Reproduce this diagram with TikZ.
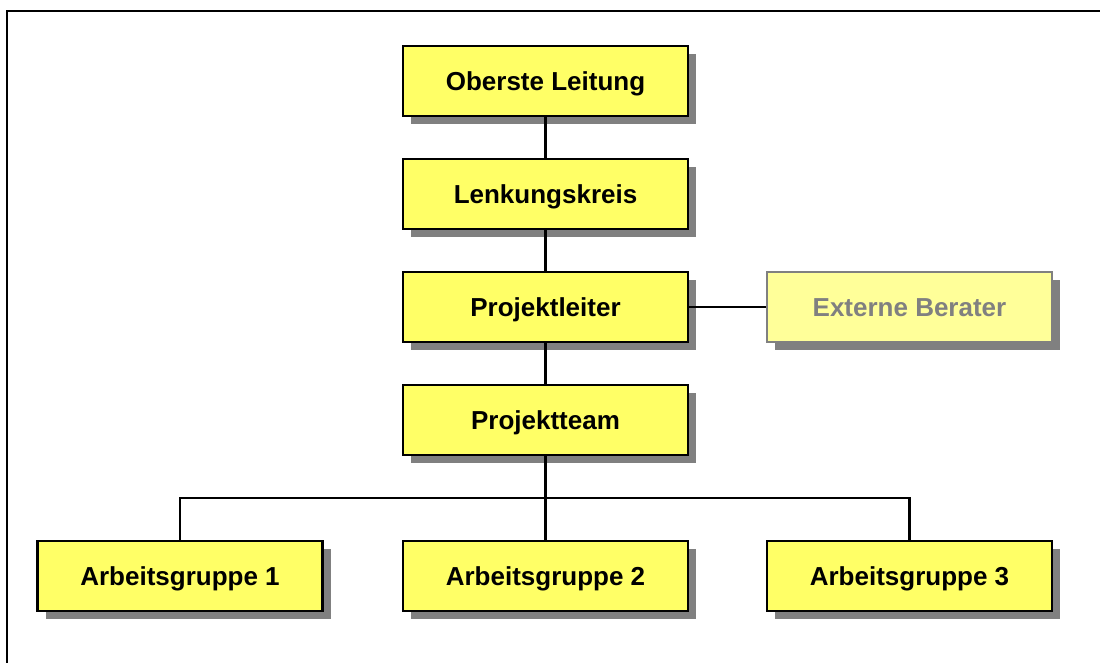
\documentclass[tikz,border=0pt]{standalone}
\usepackage{fontspec}
\setmainfont{Liberation Sans}
\usetikzlibrary{shadows}
\definecolor{boxyellow}{HTML}{FFFF66}
\definecolor{paleyellow}{HTML}{FFFF99}
\definecolor{shadowgray}{HTML}{808080}
\begin{document}
\begin{tikzpicture}[x=1pt,y=-1pt,
  orgbox/.style={draw=black, line width=2.8pt, fill=boxyellow,
    minimum width=285pt, minimum height=70pt, inner sep=0pt,
    text height=19pt, text depth=0pt,
    font=\fontsize{26}{30}\selectfont\bfseries,
    drop shadow={shadow xshift=8pt, shadow yshift=-8pt, fill=shadowgray, opacity=1}},
  extbox/.style={orgbox, draw=shadowgray, fill=paleyellow, text=shadowgray},
  link/.style={draw=black, line width=2.2pt}]
\useasboundingbox (0,0) rectangle (1100,663);
\draw[line width=2pt] (7,663) -- (7,11) -- (1100,11);
\node[orgbox] (ol) at (545.5,81) {Oberste Leitung};
\node[orgbox] (lk) at (545.5,194) {Lenkungskreis};
\node[orgbox] (pl) at (545.5,307) {Projektleiter};
\node[extbox] (eb) at (909.5,307) {Externe Berater};
\node[orgbox] (pt) at (545.5,420) {Projektteam};
\node[orgbox] (ag1) at (180,576) {Arbeitsgruppe 1};
\node[orgbox] (ag2) at (545.5,576) {Arbeitsgruppe 2};
\node[orgbox] (ag3) at (909.5,576) {Arbeitsgruppe 3};
\coordinate (bus) at (545.5,498);
\draw[link] (ol) -- (lk);
\draw[link] (lk) -- (pl);
\draw[link] (pl) -- (pt);
\draw[link] (pl) -- (eb);
\draw[link] (pt) -- (ag2);
\draw[link] (ag1.north) |- (bus) -| (ag3.north);
\end{tikzpicture}
\end{document}
